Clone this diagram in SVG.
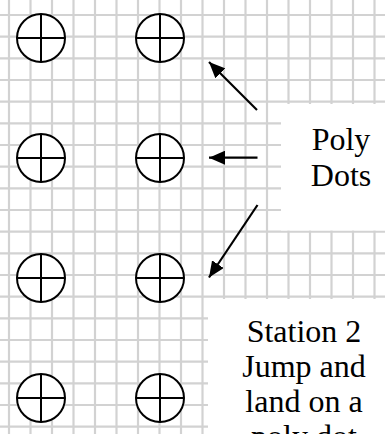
<svg xmlns="http://www.w3.org/2000/svg" width="385" height="434" viewBox="0 0 385 434">
<style>
.grid line{stroke:#d2d2d2;stroke-width:2.2}
.conn line{stroke:#000;stroke-width:2.2}
text{font-family:"Liberation Serif","Times New Roman",Times,serif;font-size:32px;fill:#000;text-anchor:middle}
</style>
<defs>
<marker id="ah" viewBox="0 0 16 14" refX="16" refY="7" markerWidth="16" markerHeight="14" markerUnits="userSpaceOnUse" orient="auto">
<path d="M0,0 L16,7 L0,14 Z" fill="#000"/>
</marker>
<g id="dotshape">
<circle cx="0" cy="0" r="24" fill="#fff" stroke="#000" stroke-width="2"/>
<path d="M-24,0 H24 M0,-24 V24" fill="none" stroke="#000" stroke-width="2"/>
</g>
</defs>
<rect width="385" height="434" fill="#fff"/>
<g class="grid">
<line x1="9" y1="0" x2="9" y2="434"/>
<line x1="30.5" y1="0" x2="30.5" y2="434"/>
<line x1="52" y1="0" x2="52" y2="434"/>
<line x1="73.5" y1="0" x2="73.5" y2="434"/>
<line x1="95" y1="0" x2="95" y2="434"/>
<line x1="116.5" y1="0" x2="116.5" y2="434"/>
<line x1="138" y1="0" x2="138" y2="434"/>
<line x1="159.5" y1="0" x2="159.5" y2="434"/>
<line x1="181" y1="0" x2="181" y2="434"/>
<line x1="202.5" y1="0" x2="202.5" y2="434"/>
<line x1="224" y1="0" x2="224" y2="434"/>
<line x1="245.5" y1="0" x2="245.5" y2="434"/>
<line x1="267" y1="0" x2="267" y2="434"/>
<line x1="288.5" y1="0" x2="288.5" y2="434"/>
<line x1="310" y1="0" x2="310" y2="434"/>
<line x1="331.5" y1="0" x2="331.5" y2="434"/>
<line x1="353" y1="0" x2="353" y2="434"/>
<line x1="374.5" y1="0" x2="374.5" y2="434"/>
<line x1="0" y1="15" x2="385" y2="15"/>
<line x1="0" y1="36.7" x2="385" y2="36.7"/>
<line x1="0" y1="58.3" x2="385" y2="58.3"/>
<line x1="0" y1="80" x2="385" y2="80"/>
<line x1="0" y1="101.7" x2="385" y2="101.7"/>
<line x1="0" y1="123.3" x2="385" y2="123.3"/>
<line x1="0" y1="145" x2="385" y2="145"/>
<line x1="0" y1="166.7" x2="385" y2="166.7"/>
<line x1="0" y1="188.3" x2="385" y2="188.3"/>
<line x1="0" y1="210" x2="385" y2="210"/>
<line x1="0" y1="231.7" x2="385" y2="231.7"/>
<line x1="0" y1="253.3" x2="385" y2="253.3"/>
<line x1="0" y1="275" x2="385" y2="275"/>
<line x1="0" y1="296.7" x2="385" y2="296.7"/>
<line x1="0" y1="318.3" x2="385" y2="318.3"/>
<line x1="0" y1="340" x2="385" y2="340"/>
<line x1="0" y1="361.7" x2="385" y2="361.7"/>
<line x1="0" y1="383.3" x2="385" y2="383.3"/>
<line x1="0" y1="405" x2="385" y2="405"/>
<line x1="0" y1="426.7" x2="385" y2="426.7"/>
</g>
<g id="dots">
<g id="dot-1-1"><use href="#dotshape" x="41" y="38"/></g>
<g id="dot-1-2"><use href="#dotshape" x="160" y="38"/></g>
<g id="dot-2-1"><use href="#dotshape" x="41" y="158"/></g>
<g id="dot-2-2"><use href="#dotshape" x="160" y="158"/></g>
<g id="dot-3-1"><use href="#dotshape" x="41" y="278"/></g>
<g id="dot-3-2"><use href="#dotshape" x="160" y="278"/></g>
<g id="dot-4-1"><use href="#dotshape" x="41" y="398"/></g>
<g id="dot-4-2"><use href="#dotshape" x="160" y="398"/></g>
</g>
<g id="poly-dots-label">
<rect x="281" y="104" width="104" height="126.5" fill="#fff"/>
<text x="341" y="150">Poly</text>
<text x="341" y="186">Dots</text>
</g>
<g id="station-label">
<rect x="208" y="299" width="177" height="135" fill="#fff"/>
<text x="304" y="341.7">Station 2</text>
<text x="304" y="376.7">Jump and</text>
<text x="304" y="411.7">land on a</text>
<text x="304" y="447">poly dot</text>
</g>
<g id="connectors" class="conn">
<line x1="257" y1="110" x2="209" y2="62" marker-end="url(#ah)"/>
<line x1="257.5" y1="157.7" x2="209" y2="157.7" marker-end="url(#ah)"/>
<line x1="257.5" y1="205" x2="209" y2="277.5" marker-end="url(#ah)"/>
</g>
</svg>
